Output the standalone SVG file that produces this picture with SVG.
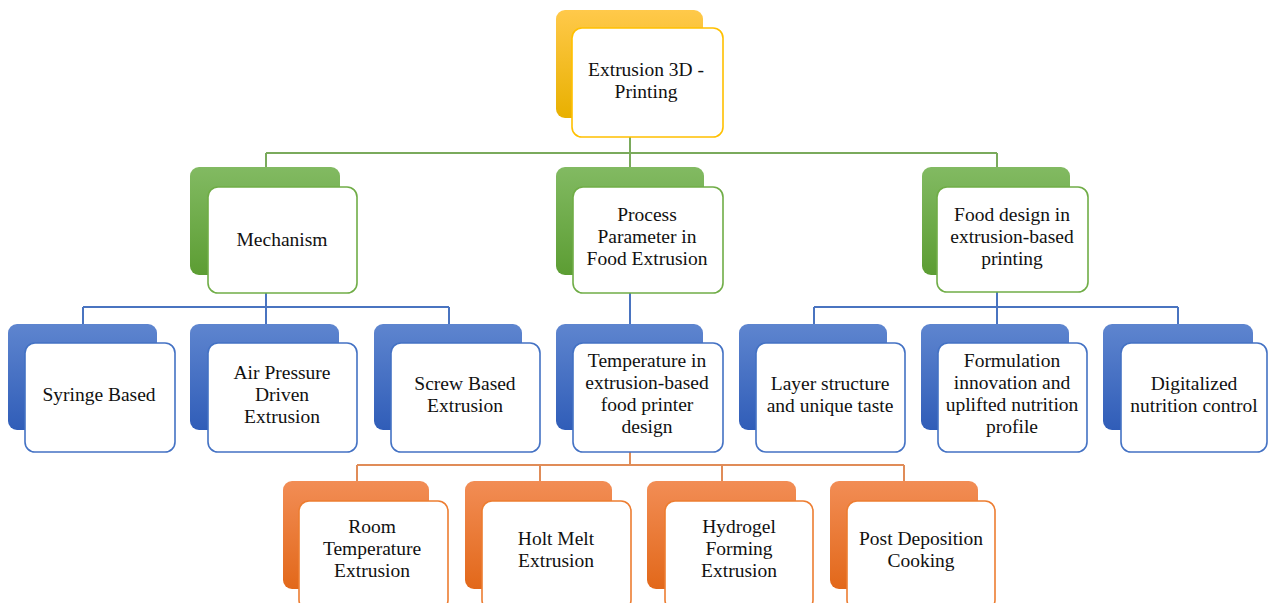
<svg xmlns="http://www.w3.org/2000/svg" width="1268" height="603" viewBox="0 0 1268 603">
<defs>
<linearGradient id="gGold" x1="0" y1="0" x2="0" y2="1"><stop offset="0" stop-color="#FFC94A"/><stop offset="1" stop-color="#E8B000"/></linearGradient>
<linearGradient id="gGreen" x1="0" y1="0" x2="0" y2="1"><stop offset="0" stop-color="#82BA62"/><stop offset="1" stop-color="#5C9D33"/></linearGradient>
<linearGradient id="gBlue" x1="0" y1="0" x2="0" y2="1"><stop offset="0" stop-color="#5E85CF"/><stop offset="1" stop-color="#305DB8"/></linearGradient>
<linearGradient id="gOrange" x1="0" y1="0" x2="0" y2="1"><stop offset="0" stop-color="#F28D55"/><stop offset="1" stop-color="#E2681A"/></linearGradient>
</defs>
<style>
.back{rx:9px;ry:9px;}
.front{fill:#FFFFFF;stroke-width:1.6;rx:10px;ry:10px;}
.gold .back{fill:url(#gGold);} .gold .front{stroke:#FFC000;}
.green .back{fill:url(#gGreen);} .green .front{stroke:#70AD47;}
.blue .back{fill:url(#gBlue);} .blue .front{stroke:#4472C4;}
.orange .back{fill:url(#gOrange);} .orange .front{stroke:#ED7D31;}
text{font-family:"Liberation Serif","Times New Roman",serif;font-size:19.5px;fill:#111111;text-anchor:middle;}
.cg{stroke:#7AAA5C;stroke-width:2;fill:none;}
.cb{stroke:#4A74C0;stroke-width:2;fill:none;}
.co{stroke:#E08C58;stroke-width:2;fill:none;}
</style>
<rect width="1268" height="603" fill="#FFFFFF"/>
<g id="connectors">
<path class="cg" d="M630 137 V153 M266 153 H997 M266 153 V167 M630 153 V167 M997 153 V167"/>
<path class="cb" d="M266 293 V307 M83 307 H449 M83 307 V324 M266 307 V324 M449 307 V324"/>
<path class="cb" d="M630 293 V324"/>
<path class="cb" d="M997 292 V307 M814 307 H1178 M814 307 V324 M997 307 V324 M1178 307 V324"/>
<path class="co" d="M630 452 V465 M357 465 H904 M357 465 V481 M540 465 V481 M722 465 V481 M904 465 V481"/>
</g>
<g id="n-top" class="gold">
<rect class="back" x="556" y="10" width="147" height="108"/>
<rect class="front" x="572" y="28" width="151" height="109"/>
<text x="646" y="76">Extrusion 3D -</text>
<text x="646" y="98">Printing</text>
</g>
<g id="n-mechanism" class="green">
<rect class="back" x="190" y="167" width="150" height="108"/>
<rect class="front" x="208" y="187" width="149" height="106"/>
<text x="282" y="246">Mechanism</text>
</g>
<g id="n-process" class="green">
<rect class="back" x="556" y="167" width="148" height="108"/>
<rect class="front" x="573" y="187" width="150" height="106"/>
<text x="647" y="221">Process</text>
<text x="647" y="243">Parameter in</text>
<text x="647" y="265">Food Extrusion</text>
</g>
<g id="n-fooddesign" class="green">
<rect class="back" x="922" y="167" width="148" height="108"/>
<rect class="front" x="937" y="187" width="151" height="105"/>
<text x="1012" y="221">Food design in</text>
<text x="1012" y="243">extrusion-based</text>
<text x="1012" y="265">printing</text>
</g>
<g id="n-syringe" class="blue">
<rect class="back" x="8" y="324" width="149" height="106"/>
<rect class="front" x="25" y="343" width="150" height="109"/>
<text x="99" y="401">Syringe Based</text>
</g>
<g id="n-air" class="blue">
<rect class="back" x="190" y="324" width="149" height="106"/>
<rect class="front" x="208" y="343" width="149" height="109"/>
<text x="282" y="379">Air Pressure</text>
<text x="282" y="401">Driven</text>
<text x="282" y="423">Extrusion</text>
</g>
<g id="n-screw" class="blue">
<rect class="back" x="374" y="324" width="148" height="106"/>
<rect class="front" x="391" y="343" width="149" height="109"/>
<text x="465" y="390">Screw Based</text>
<text x="465" y="412">Extrusion</text>
</g>
<g id="n-temperature" class="blue">
<rect class="back" x="556" y="324" width="147" height="106"/>
<rect class="front" x="573" y="343" width="150" height="109"/>
<text x="647" y="367">Temperature in</text>
<text x="647" y="389">extrusion-based</text>
<text x="647" y="411">food printer</text>
<text x="647" y="433">design</text>
</g>
<g id="n-layer" class="blue">
<rect class="back" x="739" y="324" width="148" height="106"/>
<rect class="front" x="756" y="343" width="149" height="109"/>
<text x="830" y="390">Layer structure</text>
<text x="830" y="412">and unique taste</text>
</g>
<g id="n-formulation" class="blue">
<rect class="back" x="921" y="324" width="148" height="106"/>
<rect class="front" x="938" y="343" width="149" height="109"/>
<text x="1012" y="367">Formulation</text>
<text x="1012" y="389">innovation and</text>
<text x="1012" y="411">uplifted nutrition</text>
<text x="1012" y="433">profile</text>
</g>
<g id="n-digital" class="blue">
<rect class="back" x="1103" y="324" width="150" height="106"/>
<rect class="front" x="1121" y="343" width="146" height="109"/>
<text x="1194" y="390">Digitalized</text>
<text x="1194" y="412">nutrition control</text>
</g>
<g id="n-room" class="orange">
<rect class="back" x="283" y="481" width="146" height="108"/>
<rect class="front" x="299" y="501" width="149" height="109"/>
<text x="372" y="533">Room</text>
<text x="372" y="555">Temperature</text>
<text x="372" y="577">Extrusion</text>
</g>
<g id="n-holt" class="orange">
<rect class="back" x="465" y="481" width="147" height="108"/>
<rect class="front" x="482" y="501" width="149" height="109"/>
<text x="556" y="545">Holt Melt</text>
<text x="556" y="567">Extrusion</text>
</g>
<g id="n-hydrogel" class="orange">
<rect class="back" x="647" y="481" width="149" height="108"/>
<rect class="front" x="665" y="501" width="148" height="109"/>
<text x="739" y="533">Hydrogel</text>
<text x="739" y="555">Forming</text>
<text x="739" y="577">Extrusion</text>
</g>
<g id="n-post" class="orange">
<rect class="back" x="830" y="481" width="148" height="108"/>
<rect class="front" x="847" y="501" width="148" height="109"/>
<text x="921" y="545">Post Deposition</text>
<text x="921" y="567">Cooking</text>
</g>
</svg>
